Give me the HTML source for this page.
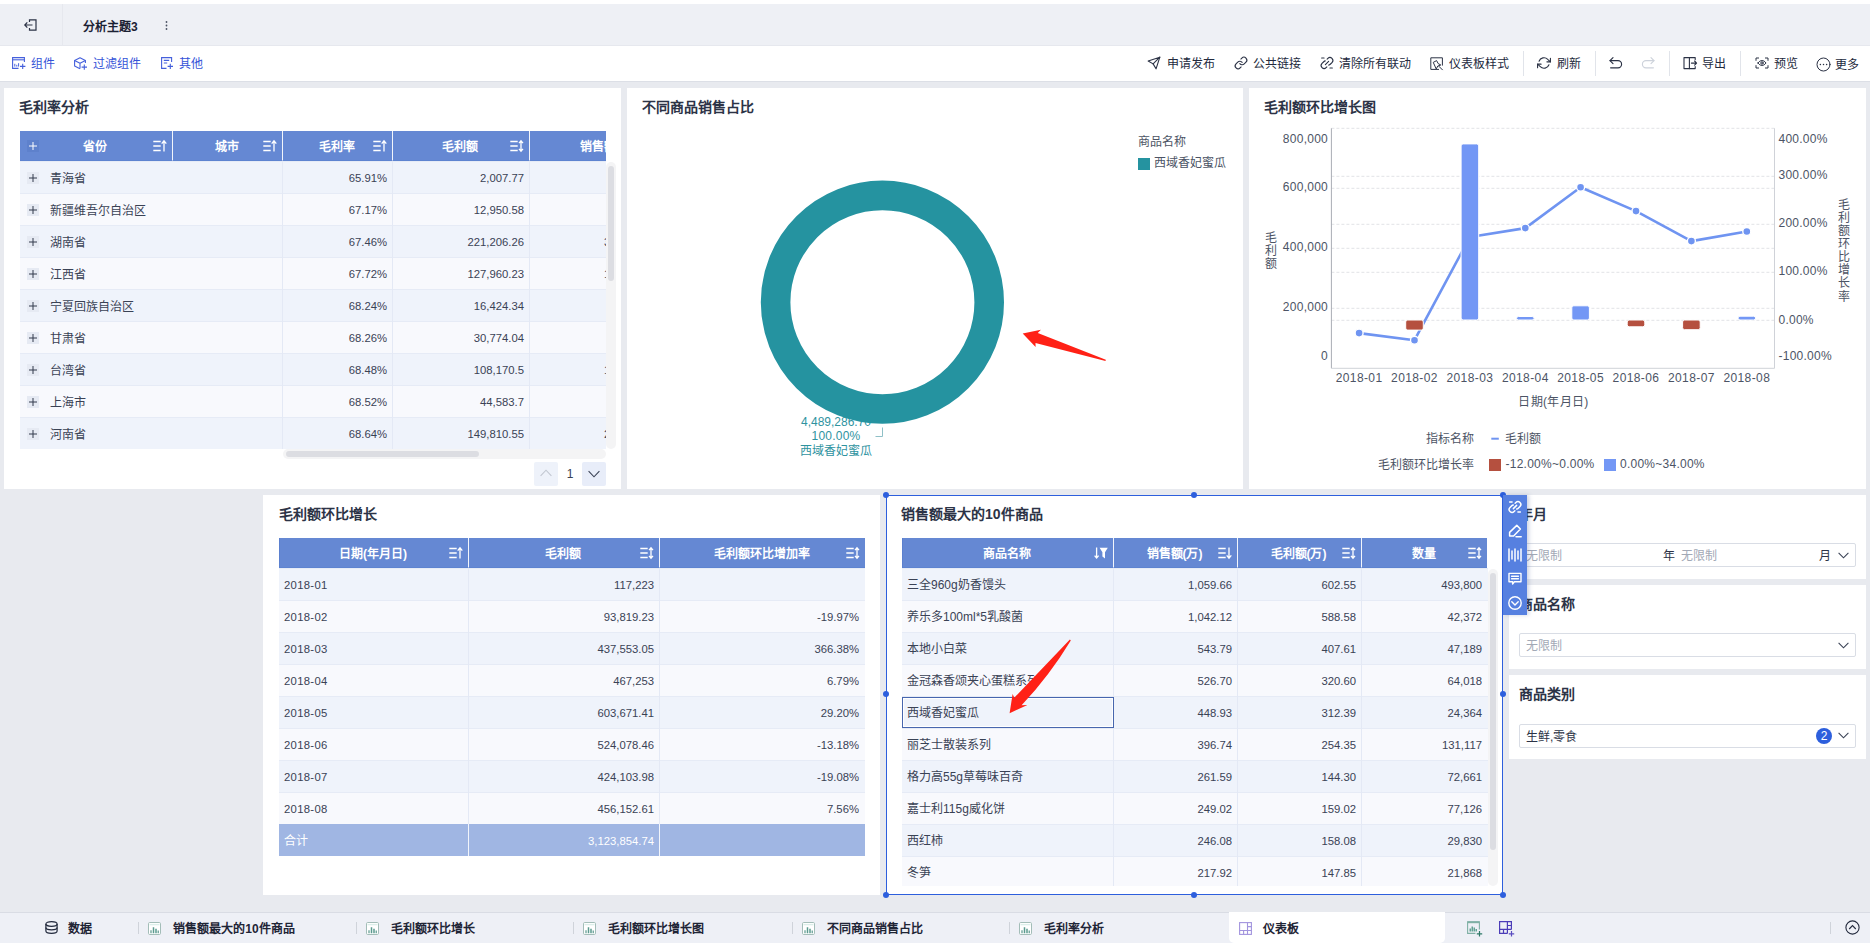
<!DOCTYPE html><html lang="zh-CN"><head><meta charset="utf-8"><title>dashboard</title><style>
*{box-sizing:border-box;margin:0;padding:0}
html,body{width:1870px;height:943px;overflow:hidden}
body{position:relative;background:#e8eaef;font-family:"Liberation Sans",sans-serif;font-size:12px;color:#3a4255;-webkit-font-smoothing:antialiased}
.abs{position:absolute}
.card{position:absolute;background:#fff}
.ttl{position:absolute;font-weight:bold;font-size:14px;color:#2c3346;white-space:nowrap;line-height:16px}
.th{position:absolute;background:#6588d3;color:#fff;font-weight:bold;font-size:12px;height:30px;line-height:33.5px;text-align:center;white-space:nowrap;border-left:1px solid #5b80cf;border-bottom:1px solid #5d83d0;padding-right:2px}
.td{position:absolute;height:32px;line-height:32px;white-space:nowrap;overflow:hidden;font-size:12px;color:#3a4255;border-top:1px solid #e6ebf6}
.num{text-align:right;padding-right:6px;font-size:11.3px;line-height:34px}
.txt{text-align:left;padding-left:5px;line-height:35px}
.ro{background:#eff3fb}
.re{background:#f8f9fd}
.vs{position:absolute;width:1px;background:#e4e9f5}
.tb{position:absolute;margin-top:1px;white-space:nowrap;font-size:12px;line-height:14px;color:#232a3d}
.tbl{color:#3553d8}
.sep{position:absolute;width:1px;background:#e1e4ea}
.tab{position:absolute;margin-top:1px;font-weight:bold;font-size:12px;color:#1f2536;white-space:nowrap;line-height:14px}
.ax{position:absolute;font-size:12px;line-height:14px;color:#4c5465;white-space:nowrap;letter-spacing:.25px}
.lg{position:absolute;margin-top:1px;font-size:12px;line-height:14px;color:#4c5465;white-space:nowrap}
svg{position:absolute;overflow:visible}
</style></head><body>
<div class="abs" style="left:0;top:0;width:1870px;height:4px;background:#fff"></div>
<div class="abs" style="left:0;top:4px;width:1870px;height:42px;background:#eef0f5;border-bottom:1px solid #e6e8ee"></div>
<div class="abs" style="left:62px;top:4px;width:1px;height:41px;background:#e6e8ee"></div>
<div class="abs" style="left:0;top:46px;width:1870px;height:35px;background:#fff"></div>
<div class="abs" style="left:0;top:81px;width:1870px;height:1px;background:#dcdfe6"></div>
<svg style="left:24px;top:19px" width="13" height="12" viewBox="0 0 13 12" fill="none" stroke="#2b3245" stroke-width="1.2"><path d="M5.5 3V.8H12V11.2H5.5V9"/><path d="M8.5 6H.8M3.3 3.4L.8 6l2.5 2.6"/></svg>
<div class="abs" style="left:83px;top:19px;font-weight:bold;font-size:12px;line-height:16px;color:#1b2133;white-space:nowrap">分析主题3</div>
<svg style="left:165px;top:21px" width="3" height="9" viewBox="0 0 3 9" fill="#4a5162"><circle cx="1.5" cy="1" r=".9"/><circle cx="1.5" cy="4.5" r=".9"/><circle cx="1.5" cy="8" r=".9"/></svg>
<svg style="left:12px;top:57px" width="14" height="12" viewBox="0 0 14 12" fill="none" stroke="#4560dc" stroke-width="1.1"><path d="M12.4 5V.6H.6V11.4H6.5"/><path d="M.6 2.8H12.4"/><path d="M2.8 9.6V6.8M4.8 9.6V7.8M6.6 9.6V6.2" stroke-width="1"/><path d="M8 9.4h5.4M10.7 6.7v5.3"/></svg>
<div class="tb tbl" style="left:31px;top:56px">组件</div>
<svg style="left:74px;top:56.5px" width="14" height="13" viewBox="0 0 14 13" fill="none" stroke="#4560dc" stroke-width="1.1" stroke-linejoin="round"><path d="M11.4 6V3.5L6 .7.6 3.5V9L6 11.8"/><path d="M.6 3.5L6 6.3 11.4 3.5M6 6.3V11.6"/><path d="M7.6 10.1h5.4M10.3 7.4v5.3"/></svg>
<div class="tb tbl" style="left:93px;top:56px">过滤组件</div>
<svg style="left:161px;top:57px" width="13" height="12" viewBox="0 0 13 12" fill="none" stroke="#4560dc" stroke-width="1.1"><path d="M10.6 5V.6H.6V11.4H5.5"/><path d="M2.8 3.4H8.2M2.8 6H6.2"/><path d="M6.6 9.4H12M9.3 6.7v5.3"/></svg>
<div class="tb tbl" style="left:179px;top:56px">其他</div>
<svg style="left:1147px;top:56px" width="14" height="14" viewBox="0 0 24 24" fill="none" stroke="#2b3245" stroke-width="1.9" stroke-linecap="round" stroke-linejoin="round"><path d="M22 2L10.5 13.5"/><path d="M22 2l-6.5 20-5-8.5-8.5-5z"/></svg>
<div class="tb" style="left:1167px;top:56px">申请发布</div>
<svg style="left:1233.5px;top:56px" width="14" height="14" viewBox="0 0 24 24" fill="none" stroke="#2b3245" stroke-width="1.9" stroke-linecap="round" stroke-linejoin="round"><path d="M10 13a5 5 0 0 0 7.54.54l3-3a5 5 0 0 0-7.07-7.07l-1.72 1.71"/><path d="M14 11a5 5 0 0 0-7.54-.54l-3 3a5 5 0 0 0 7.07 7.07l1.71-1.71"/></svg>
<div class="tb" style="left:1253px;top:56px">公共链接</div>
<svg style="left:1319.5px;top:56px" width="14" height="14" viewBox="0 0 24 24" fill="none" stroke="#2b3245" stroke-width="1.9" stroke-linecap="round" stroke-linejoin="round"><path d="M12.2 5.4l1.3-1.3a5 5 0 0 1 7.07 7.07l-3 3a5 5 0 0 1-2.6 1.4"/><path d="M11.8 18.6l-1.3 1.3a5 5 0 0 1-7.07-7.07l3-3a5 5 0 0 1 2.6-1.4"/><path d="M9.2 14.8l5.6-5.6"/><path d="M17 20.5h4.2M2.8 3.5H7"/></svg>
<div class="tb" style="left:1339px;top:56px">清除所有联动</div>
<svg style="left:1429.5px;top:56.5px" width="13" height="13" viewBox="0 0 13 13" fill="none" stroke="#2b3245" stroke-width="1" stroke-linecap="round" stroke-linejoin="round"><path d="M12.4 8.2V.8H.8V12.4H8.6"/><path d="M3.6 5.2l3-1.6 1.6 3 2.6 1.4-3 1-1.4 2.6z"/><path d="M9 9.4l3.4 3.4"/></svg>
<div class="tb" style="left:1449px;top:56px">仪表板样式</div>
<div class="sep" style="left:1523px;top:51px;height:25px"></div>
<svg style="left:1537px;top:56px" width="14" height="14" viewBox="0 0 24 24" fill="none" stroke="#2b3245" stroke-width="1.9" stroke-linecap="round" stroke-linejoin="round"><path d="M23 4v6h-6"/><path d="M1 20v-6h6"/><path d="M3.51 9a9 9 0 0 1 14.85-3.36L23 10M1 14l4.64 4.36A9 9 0 0 0 20.49 15"/></svg>
<div class="tb" style="left:1557px;top:56px">刷新</div>
<div class="sep" style="left:1595px;top:51px;height:25px"></div>
<svg style="left:1609px;top:56px" width="14" height="14" viewBox="0 0 14 14" fill="none" stroke="#2b3245" stroke-width="1.15" stroke-linecap="round" stroke-linejoin="round"><path d="M1 4.6h8a3.6 3.6 0 010 7.2H1.6"/><path d="M4 1.6L1 4.6l3 3"/></svg>
<svg style="left:1641px;top:56px" width="14" height="14" viewBox="0 0 14 14" fill="none" stroke="#cdd2db" stroke-width="1.15" stroke-linecap="round" stroke-linejoin="round"><path d="M13 4.6H5a3.6 3.6 0 000 7.2h7.4"/><path d="M10 1.6l3 3-3 3"/></svg>
<div class="sep" style="left:1669px;top:51px;height:25px"></div>
<svg style="left:1683px;top:56px" width="15" height="14" viewBox="0 0 15 14" fill="none" stroke="#2b3245" stroke-width="1.1" stroke-linecap="round" stroke-linejoin="round"><path d="M1 1.6h5.4v11H1z"/><path d="M6.4 1.6h5.8v2M6.4 12.6h5.8v-2"/><path d="M8.4 7.1h5M11.6 5l2 2.1-2 2.1"/></svg>
<div class="tb" style="left:1702px;top:56px">导出</div>
<div class="sep" style="left:1740px;top:51px;height:25px"></div>
<svg style="left:1754.5px;top:56px" width="14" height="14" viewBox="0 0 14 14" fill="none" stroke="#2b3245" stroke-width="1" stroke-linecap="round" stroke-linejoin="round"><path d="M1 4.400V2h2.600M10.400 2H13v2.400M13 9.600V12h-2.600M3.600 12H1V9.600"/><path d="M3 7C4.200 5.300 5.500 4.600 7 4.600s2.800.7 4 2.400C9.800 8.700 8.500 9.400 7 9.400S4.200 8.700 3 7z"/><circle cx="7" cy="7" r="1.200"/></svg>
<div class="tb" style="left:1774px;top:56px">预览</div>
<svg style="left:1815.5px;top:56.5px" width="15" height="15" viewBox="0 0 15 15" fill="none" stroke="#2b3245" stroke-width="1" stroke-linecap="round" stroke-linejoin="round"><circle cx="7.5" cy="7.5" r="6.500"/><circle cx="4.4" cy="7.5" r=".75" fill="#2b3245" stroke="none"/><circle cx="7.5" cy="7.5" r=".75" fill="#2b3245" stroke="none"/><circle cx="10.6" cy="7.5" r=".75" fill="#2b3245" stroke="none"/></svg>
<div class="tb" style="left:1835px;top:57px">更多</div>
<div class="card" style="left:4px;top:88px;width:617px;height:401px"></div>
<div class="ttl" style="left:19px;top:99px">毛利率分析</div>
<div class="abs" style="left:20px;top:131px;width:586px;height:30px;overflow:hidden">
<div class="th" style="left:0px;top:0;width:152px;border-left:0;padding-left:0px">省份</div>
<svg style="left:133px;top:9px" width="14" height="12" viewBox="0 0 14 12" fill="none" stroke="#fff" stroke-width="1.4"><path d="M.3 1.5h7.4M.3 6h7.4M.3 10.5h7.4"/><path d="M11 11.5V.8M8.7 3.6L11 .8l2.3 2.8" stroke-width="1.3"/></svg>
<div class="th" style="left:152px;top:0;width:110px;border-left:1px solid #f2f5fb;padding-left:0px">城市</div>
<svg style="left:243px;top:9px" width="14" height="12" viewBox="0 0 14 12" fill="none" stroke="#fff" stroke-width="1.4"><path d="M.3 1.5h7.4M.3 6h7.4M.3 10.5h7.4"/><path d="M11 11.5V.8M8.7 3.6L11 .8l2.3 2.8" stroke-width="1.3"/></svg>
<div class="th" style="left:262px;top:0;width:110px;border-left:1px solid #f2f5fb;padding-left:0px">毛利率</div>
<svg style="left:353px;top:9px" width="14" height="12" viewBox="0 0 14 12" fill="none" stroke="#fff" stroke-width="1.4"><path d="M.3 1.5h7.4M.3 6h7.4M.3 10.5h7.4"/><path d="M11 11.5V.8M8.7 3.6L11 .8l2.3 2.8" stroke-width="1.3"/></svg>
<div class="th" style="left:372px;top:0;width:137px;border-left:1px solid #f2f5fb;padding-left:0px">毛利额</div>
<svg style="left:490px;top:9px" width="14" height="12" viewBox="0 0 14 12" fill="none" stroke="#fff" stroke-width="1.4"><path d="M.3 1.5h7.4M.3 6h7.4M.3 10.5h7.4"/><path d="M11 1v10M9 3.2L11 .8l2 2.4M9 8.8l2 2.4 2-2.4" stroke-width="1.3"/></svg>
<div class="th" style="left:509px;top:0;width:138px;border-left:1px solid #f2f5fb">销售额</div>
<div class="abs" style="left:7px;top:9px;width:12px;height:12px;background:rgba(40,70,150,.10)"></div><svg style="left:8.500px;top:10.500px" width="8" height="8" viewBox="0 0 8 8" stroke="#fff" stroke-width="1"><path d="M4 0v8M0 4h8"/></svg>
</div>
<div class="abs" style="left:20px;top:161px;width:586px;height:288px;overflow:hidden">
<div class="td ro" style="left:0;top:0px;width:586px"></div>
<div class="abs" style="left:7px;top:11px;width:12px;height:12px;background:#e6eaf3"></div><svg style="left:8.500px;top:12.5px" width="8" height="8" viewBox="0 0 8 8" stroke="#333a4c" stroke-width="1"><path d="M4 0v8M0 4h8"/></svg>
<div class="td txt" style="left:24px;top:0px;width:238px;border:0;padding-left:6px;line-height:36.500px">青海省</div>
<div class="td num" style="left:263px;top:0px;width:110px;border:0">65.91%</div>
<div class="td num" style="left:373px;top:0px;width:137px;border:0">2,007.77</div>
<div class="td re" style="left:0;top:32px;width:586px"></div>
<div class="abs" style="left:7px;top:43px;width:12px;height:12px;background:#e6eaf3"></div><svg style="left:8.500px;top:44.5px" width="8" height="8" viewBox="0 0 8 8" stroke="#333a4c" stroke-width="1"><path d="M4 0v8M0 4h8"/></svg>
<div class="td txt" style="left:24px;top:32px;width:238px;border:0;padding-left:6px;line-height:36.500px">新疆维吾尔自治区</div>
<div class="td num" style="left:263px;top:32px;width:110px;border:0">67.17%</div>
<div class="td num" style="left:373px;top:32px;width:137px;border:0">12,950.58</div>
<div class="td ro" style="left:0;top:64px;width:586px"></div>
<div class="abs" style="left:7px;top:75px;width:12px;height:12px;background:#e6eaf3"></div><svg style="left:8.500px;top:76.5px" width="8" height="8" viewBox="0 0 8 8" stroke="#333a4c" stroke-width="1"><path d="M4 0v8M0 4h8"/></svg>
<div class="td txt" style="left:24px;top:64px;width:238px;border:0;padding-left:6px;line-height:36.500px">湖南省</div>
<div class="td num" style="left:263px;top:64px;width:110px;border:0">67.46%</div>
<div class="td num" style="left:373px;top:64px;width:137px;border:0">221,206.26</div>
<div class="td num" style="left:510px;top:64px;width:137px;border:0;text-align:left;padding-left:74px">3</div>
<div class="td re" style="left:0;top:96px;width:586px"></div>
<div class="abs" style="left:7px;top:107px;width:12px;height:12px;background:#e6eaf3"></div><svg style="left:8.500px;top:108.5px" width="8" height="8" viewBox="0 0 8 8" stroke="#333a4c" stroke-width="1"><path d="M4 0v8M0 4h8"/></svg>
<div class="td txt" style="left:24px;top:96px;width:238px;border:0;padding-left:6px;line-height:36.500px">江西省</div>
<div class="td num" style="left:263px;top:96px;width:110px;border:0">67.72%</div>
<div class="td num" style="left:373px;top:96px;width:137px;border:0">127,960.23</div>
<div class="td num" style="left:510px;top:96px;width:137px;border:0;text-align:left;padding-left:74px">1</div>
<div class="td ro" style="left:0;top:128px;width:586px"></div>
<div class="abs" style="left:7px;top:139px;width:12px;height:12px;background:#e6eaf3"></div><svg style="left:8.500px;top:140.5px" width="8" height="8" viewBox="0 0 8 8" stroke="#333a4c" stroke-width="1"><path d="M4 0v8M0 4h8"/></svg>
<div class="td txt" style="left:24px;top:128px;width:238px;border:0;padding-left:6px;line-height:36.500px">宁夏回族自治区</div>
<div class="td num" style="left:263px;top:128px;width:110px;border:0">68.24%</div>
<div class="td num" style="left:373px;top:128px;width:137px;border:0">16,424.34</div>
<div class="td re" style="left:0;top:160px;width:586px"></div>
<div class="abs" style="left:7px;top:171px;width:12px;height:12px;background:#e6eaf3"></div><svg style="left:8.500px;top:172.5px" width="8" height="8" viewBox="0 0 8 8" stroke="#333a4c" stroke-width="1"><path d="M4 0v8M0 4h8"/></svg>
<div class="td txt" style="left:24px;top:160px;width:238px;border:0;padding-left:6px;line-height:36.500px">甘肃省</div>
<div class="td num" style="left:263px;top:160px;width:110px;border:0">68.26%</div>
<div class="td num" style="left:373px;top:160px;width:137px;border:0">30,774.04</div>
<div class="td ro" style="left:0;top:192px;width:586px"></div>
<div class="abs" style="left:7px;top:203px;width:12px;height:12px;background:#e6eaf3"></div><svg style="left:8.500px;top:204.5px" width="8" height="8" viewBox="0 0 8 8" stroke="#333a4c" stroke-width="1"><path d="M4 0v8M0 4h8"/></svg>
<div class="td txt" style="left:24px;top:192px;width:238px;border:0;padding-left:6px;line-height:36.500px">台湾省</div>
<div class="td num" style="left:263px;top:192px;width:110px;border:0">68.48%</div>
<div class="td num" style="left:373px;top:192px;width:137px;border:0">108,170.5</div>
<div class="td num" style="left:510px;top:192px;width:137px;border:0;text-align:left;padding-left:74px">1</div>
<div class="td re" style="left:0;top:224px;width:586px"></div>
<div class="abs" style="left:7px;top:235px;width:12px;height:12px;background:#e6eaf3"></div><svg style="left:8.500px;top:236.5px" width="8" height="8" viewBox="0 0 8 8" stroke="#333a4c" stroke-width="1"><path d="M4 0v8M0 4h8"/></svg>
<div class="td txt" style="left:24px;top:224px;width:238px;border:0;padding-left:6px;line-height:36.500px">上海市</div>
<div class="td num" style="left:263px;top:224px;width:110px;border:0">68.52%</div>
<div class="td num" style="left:373px;top:224px;width:137px;border:0">44,583.7</div>
<div class="td ro" style="left:0;top:256px;width:586px"></div>
<div class="abs" style="left:7px;top:267px;width:12px;height:12px;background:#e6eaf3"></div><svg style="left:8.500px;top:268.5px" width="8" height="8" viewBox="0 0 8 8" stroke="#333a4c" stroke-width="1"><path d="M4 0v8M0 4h8"/></svg>
<div class="td txt" style="left:24px;top:256px;width:238px;border:0;padding-left:6px;line-height:36.500px">河南省</div>
<div class="td num" style="left:263px;top:256px;width:110px;border:0">68.64%</div>
<div class="td num" style="left:373px;top:256px;width:137px;border:0">149,810.55</div>
<div class="td num" style="left:510px;top:256px;width:137px;border:0;text-align:left;padding-left:74px">2</div>
<div class="vs" style="left:262px;top:0;height:288px"></div>
<div class="vs" style="left:372px;top:0;height:288px"></div>
<div class="vs" style="left:509px;top:0;height:288px"></div>
</div>
<div class="abs" style="left:606px;top:162px;width:10px;height:287px;background:#f4f4f5;border-radius:5px"></div>
<div class="abs" style="left:608px;top:166px;width:6px;height:115px;background:#dcdde2;border-radius:3px"></div>
<div class="abs" style="left:283px;top:449px;width:323px;height:10px;background:#f4f4f5;border-radius:5px"></div>
<div class="abs" style="left:286px;top:451px;width:193px;height:6px;background:#dcdde2;border-radius:3px"></div>
<div class="abs" style="left:534px;top:462px;width:24px;height:24px;background:#eef2fa;border-radius:2px"></div>
<svg style="left:540px;top:469px" width="12" height="8" viewBox="0 0 12 8" fill="none" stroke="#c2c7d1" stroke-width="1.1"><path d="M.6 6.8L6 1.2l5.4 5.6"/></svg>
<div class="abs" style="left:562px;top:466px;width:16px;text-align:center;line-height:16px;font-size:12px;color:#3a4255">1</div>
<div class="abs" style="left:582px;top:462px;width:24px;height:24px;background:#e8edf9;border-radius:2px"></div>
<svg style="left:588px;top:470px" width="12" height="8" viewBox="0 0 12 8" fill="none" stroke="#3a4255" stroke-width="1.1"><path d="M.6 1.2L6 6.8l5.4-5.6"/></svg>
<div class="card" style="left:627px;top:88px;width:616px;height:401px"></div>
<div class="ttl" style="left:642px;top:99px">不同商品销售占比</div>
<div class="lg" style="left:1138px;top:134px">商品名称</div>
<div class="abs" style="left:1138px;top:158px;width:12px;height:12px;background:#2593a0"></div>
<div class="lg" style="left:1154px;top:155px">西域香妃蜜瓜</div>
<div class="lg" style="left:796px;top:415px;width:80px;text-align:center;margin-top:0;color:#2f939f">4,489,286.70</div>
<div class="lg" style="left:796px;top:429px;width:80px;text-align:center;margin-top:0;color:#2f939f;letter-spacing:.2px">100.00%</div>
<div class="lg" style="left:796px;top:443px;width:80px;text-align:center;color:#2f939f">西域香妃蜜瓜</div>
<svg style="left:0;top:0" width="1870" height="943" viewBox="0 0 1870 943"><path d="M875.5 436.5H882.5V427.5" fill="none" stroke="#8fc0c7" stroke-width="1"/><circle cx="882.4" cy="302.2" r="106.8" fill="none" stroke="#2593a0" stroke-width="29.6"/>
<path d="M1022.7 333.4L1040.9 329.7L1037.8 332.9L1105.8 359.700L1105.500 361L1035.500 343.100L1035.600 346.900Z" fill="#ff2116"/>
</svg>
<div class="card" style="left:1249px;top:88px;width:617px;height:401px"></div>
<div class="ttl" style="left:1264px;top:99px">毛利额环比增长图</div>
<svg style="left:0;top:0" width="1870" height="943" viewBox="0 0 1870 943"><path d="M1331.4 128.3H1774.5" stroke="#e2e3e6" stroke-width="1" stroke-dasharray="3 2" fill="none"/><path d="M1331.4 176.3H1774.5" stroke="#e2e3e6" stroke-width="1" stroke-dasharray="3 2" fill="none"/><path d="M1331.4 188.3H1774.5" stroke="#e2e3e6" stroke-width="1" stroke-dasharray="3 2" fill="none"/><path d="M1331.4 224.3H1774.5" stroke="#e2e3e6" stroke-width="1" stroke-dasharray="3 2" fill="none"/><path d="M1331.4 248.3H1774.5" stroke="#e2e3e6" stroke-width="1" stroke-dasharray="3 2" fill="none"/><path d="M1331.4 272.3H1774.5" stroke="#e2e3e6" stroke-width="1" stroke-dasharray="3 2" fill="none"/><path d="M1331.4 308.3H1774.5" stroke="#e2e3e6" stroke-width="1" stroke-dasharray="3 2" fill="none"/><path d="M1331.4 320.3H1774.5" stroke="#e2e3e6" stroke-width="1" stroke-dasharray="3 2" fill="none"/><path d="M1331.4 128.3V368.3" stroke="#a9adb5" stroke-width="1"/><path d="M1774.5 128.3V368.3" stroke="#cfd2d8" stroke-width="1"/><path d="M1331.4 368.3H1774.5" stroke="#cfd2d8" stroke-width="1"/><path d="M1359.1 333.1 L1414.5 340.2 L1469.9 237.0 L1525.3 228.1 L1580.6 187.2 L1636.0 211.1 L1691.4 241.1 L1746.8 231.5" fill="none" stroke="#6f94f1" stroke-width="2.6" stroke-linejoin="round"/><circle cx="1359.1" cy="333.1" r="4" fill="#6f94f1" stroke="#fff" stroke-width="1.4"/><circle cx="1414.5" cy="340.2" r="4" fill="#6f94f1" stroke="#fff" stroke-width="1.4"/><circle cx="1469.9" cy="237.0" r="4" fill="#6f94f1" stroke="#fff" stroke-width="1.4"/><circle cx="1525.3" cy="228.1" r="4" fill="#6f94f1" stroke="#fff" stroke-width="1.4"/><circle cx="1580.6" cy="187.2" r="4" fill="#6f94f1" stroke="#fff" stroke-width="1.4"/><circle cx="1636.0" cy="211.1" r="4" fill="#6f94f1" stroke="#fff" stroke-width="1.4"/><circle cx="1691.4" cy="241.1" r="4" fill="#6f94f1" stroke="#fff" stroke-width="1.4"/><circle cx="1746.8" cy="231.5" r="4" fill="#6f94f1" stroke="#fff" stroke-width="1.4"/><rect x="1405.7" y="320.0" width="17.6" height="10.1" rx="2" fill="#b5503f" stroke="#fff" stroke-width="1"/><rect x="1461.1" y="143.9" width="17.6" height="176.1" rx="2" fill="#7397f5" stroke="#fff" stroke-width="1"/><rect x="1516.5" y="316.5" width="17.6" height="3.5" rx="2" fill="#7397f5" stroke="#fff" stroke-width="1"/><rect x="1571.8" y="305.8" width="17.6" height="14.2" rx="2" fill="#7397f5" stroke="#fff" stroke-width="1"/><rect x="1627.2" y="320.0" width="17.6" height="6.8" rx="2" fill="#b5503f" stroke="#fff" stroke-width="1"/><rect x="1682.6" y="320.0" width="17.6" height="9.7" rx="2" fill="#b5503f" stroke="#fff" stroke-width="1"/><rect x="1738.0" y="316.2" width="17.6" height="3.8" rx="2" fill="#7397f5" stroke="#fff" stroke-width="1"/><path d="M1491.3 438.7H1498.8" stroke="#6f94f1" stroke-width="2"/><rect x="1489" y="459" width="12" height="12" fill="#b5503f"/><rect x="1604" y="459" width="12" height="12" fill="#7397f5"/></svg>
<div class="ax" style="left:1268px;top:349.0px;width:60px;text-align:right">0</div>
<div class="ax" style="left:1268px;top:300.0px;width:60px;text-align:right">200,000</div>
<div class="ax" style="left:1268px;top:240.0px;width:60px;text-align:right">400,000</div>
<div class="ax" style="left:1268px;top:180.0px;width:60px;text-align:right">600,000</div>
<div class="ax" style="left:1268px;top:131.5px;width:60px;text-align:right">800,000</div>
<div class="ax" style="left:1778.5px;top:349.0px">-100.00%</div>
<div class="ax" style="left:1778.5px;top:313.3px">0.00%</div>
<div class="ax" style="left:1778.5px;top:264.0px">100.00%</div>
<div class="ax" style="left:1778.5px;top:216.0px">200.00%</div>
<div class="ax" style="left:1778.5px;top:168.0px">300.00%</div>
<div class="ax" style="left:1778.5px;top:131.5px">400.00%</div>
<div class="ax" style="left:1329.1px;top:371px;width:60px;text-align:center;letter-spacing:.4px">2018-01</div>
<div class="ax" style="left:1384.5px;top:371px;width:60px;text-align:center;letter-spacing:.4px">2018-02</div>
<div class="ax" style="left:1439.9px;top:371px;width:60px;text-align:center;letter-spacing:.4px">2018-03</div>
<div class="ax" style="left:1495.3px;top:371px;width:60px;text-align:center;letter-spacing:.4px">2018-04</div>
<div class="ax" style="left:1550.6px;top:371px;width:60px;text-align:center;letter-spacing:.4px">2018-05</div>
<div class="ax" style="left:1606.0px;top:371px;width:60px;text-align:center;letter-spacing:.4px">2018-06</div>
<div class="ax" style="left:1661.4px;top:371px;width:60px;text-align:center;letter-spacing:.4px">2018-07</div>
<div class="ax" style="left:1716.8px;top:371px;width:60px;text-align:center;letter-spacing:.4px">2018-08</div>
<div class="lg" style="left:1503.500px;top:394px;width:100px;text-align:center;letter-spacing:.3px">日期(年月日)</div>
<div class="lg" style="left:1264.5px;top:230px;width:12px;text-align:center">毛</div>
<div class="lg" style="left:1264.5px;top:243px;width:12px;text-align:center">利</div>
<div class="lg" style="left:1264.5px;top:256px;width:12px;text-align:center">额</div>
<div class="lg" style="left:1838.3px;top:196.8px;width:12px;text-align:center">毛</div>
<div class="lg" style="left:1838.3px;top:209.9px;width:12px;text-align:center">利</div>
<div class="lg" style="left:1838.3px;top:223.0px;width:12px;text-align:center">额</div>
<div class="lg" style="left:1838.3px;top:236.1px;width:12px;text-align:center">环</div>
<div class="lg" style="left:1838.3px;top:249.2px;width:12px;text-align:center">比</div>
<div class="lg" style="left:1838.3px;top:262.3px;width:12px;text-align:center">增</div>
<div class="lg" style="left:1838.3px;top:275.4px;width:12px;text-align:center">长</div>
<div class="lg" style="left:1838.3px;top:288.5px;width:12px;text-align:center">率</div>
<div class="lg" style="left:1374px;top:431px;width:100px;text-align:right">指标名称</div>
<div class="lg" style="left:1505px;top:431px">毛利额</div>
<div class="lg" style="left:1374px;top:457px;width:100px;text-align:right">毛利额环比增长率</div>
<div class="ax" style="left:1505.5px;top:457px">-12.00%~0.00%</div>
<div class="ax" style="left:1620px;top:457px">0.00%~34.00%</div>
<div class="card" style="left:263px;top:495px;width:617px;height:400px"></div>
<div class="ttl" style="left:279px;top:506px">毛利额环比增长</div>
<div class="th" style="left:279px;top:538px;width:189px;border-left:1px solid #5b80cf">日期(年月日)</div>
<svg style="left:449px;top:547px" width="14" height="12" viewBox="0 0 14 12" fill="none" stroke="#fff" stroke-width="1.4"><path d="M.3 1.5h7.4M.3 6h7.4M.3 10.5h7.4"/><path d="M11 11.5V.8M8.7 3.6L11 .8l2.3 2.8" stroke-width="1.3"/></svg>
<div class="th" style="left:468px;top:538px;width:191px;border-left:1px solid #f2f5fb">毛利额</div>
<svg style="left:640px;top:547px" width="14" height="12" viewBox="0 0 14 12" fill="none" stroke="#fff" stroke-width="1.4"><path d="M.3 1.5h7.4M.3 6h7.4M.3 10.5h7.4"/><path d="M11 1v10M9 3.2L11 .8l2 2.4M9 8.8l2 2.4 2-2.4" stroke-width="1.3"/></svg>
<div class="th" style="left:659px;top:538px;width:206px;border-left:1px solid #f2f5fb">毛利额环比增加率</div>
<svg style="left:846px;top:547px" width="14" height="12" viewBox="0 0 14 12" fill="none" stroke="#fff" stroke-width="1.4"><path d="M.3 1.5h7.4M.3 6h7.4M.3 10.5h7.4"/><path d="M11 1v10M9 3.2L11 .8l2 2.4M9 8.8l2 2.4 2-2.4" stroke-width="1.3"/></svg>
<div class="td ro" style="left:279px;top:568px;width:586px"></div>
<div class="td txt num" style="left:279px;top:568px;width:190px;border:0;text-align:left;letter-spacing:.3px;line-height:34px">2018-01</div>
<div class="td num" style="left:469px;top:568px;width:191px;border:0">117,223</div>
<div class="td num" style="left:660px;top:568px;width:205px;border:0"></div>
<div class="td re" style="left:279px;top:600px;width:586px"></div>
<div class="td txt num" style="left:279px;top:600px;width:190px;border:0;text-align:left;letter-spacing:.3px;line-height:34px">2018-02</div>
<div class="td num" style="left:469px;top:600px;width:191px;border:0">93,819.23</div>
<div class="td num" style="left:660px;top:600px;width:205px;border:0">-19.97%</div>
<div class="td ro" style="left:279px;top:632px;width:586px"></div>
<div class="td txt num" style="left:279px;top:632px;width:190px;border:0;text-align:left;letter-spacing:.3px;line-height:34px">2018-03</div>
<div class="td num" style="left:469px;top:632px;width:191px;border:0">437,553.05</div>
<div class="td num" style="left:660px;top:632px;width:205px;border:0">366.38%</div>
<div class="td re" style="left:279px;top:664px;width:586px"></div>
<div class="td txt num" style="left:279px;top:664px;width:190px;border:0;text-align:left;letter-spacing:.3px;line-height:34px">2018-04</div>
<div class="td num" style="left:469px;top:664px;width:191px;border:0">467,253</div>
<div class="td num" style="left:660px;top:664px;width:205px;border:0">6.79%</div>
<div class="td ro" style="left:279px;top:696px;width:586px"></div>
<div class="td txt num" style="left:279px;top:696px;width:190px;border:0;text-align:left;letter-spacing:.3px;line-height:34px">2018-05</div>
<div class="td num" style="left:469px;top:696px;width:191px;border:0">603,671.41</div>
<div class="td num" style="left:660px;top:696px;width:205px;border:0">29.20%</div>
<div class="td re" style="left:279px;top:728px;width:586px"></div>
<div class="td txt num" style="left:279px;top:728px;width:190px;border:0;text-align:left;letter-spacing:.3px;line-height:34px">2018-06</div>
<div class="td num" style="left:469px;top:728px;width:191px;border:0">524,078.46</div>
<div class="td num" style="left:660px;top:728px;width:205px;border:0">-13.18%</div>
<div class="td ro" style="left:279px;top:760px;width:586px"></div>
<div class="td txt num" style="left:279px;top:760px;width:190px;border:0;text-align:left;letter-spacing:.3px;line-height:34px">2018-07</div>
<div class="td num" style="left:469px;top:760px;width:191px;border:0">424,103.98</div>
<div class="td num" style="left:660px;top:760px;width:205px;border:0">-19.08%</div>
<div class="td re" style="left:279px;top:792px;width:586px"></div>
<div class="td txt num" style="left:279px;top:792px;width:190px;border:0;text-align:left;letter-spacing:.3px;line-height:34px">2018-08</div>
<div class="td num" style="left:469px;top:792px;width:191px;border:0">456,152.61</div>
<div class="td num" style="left:660px;top:792px;width:205px;border:0">7.56%</div>
<div class="vs" style="left:468px;top:568px;height:256px"></div>
<div class="vs" style="left:659px;top:568px;height:256px"></div>
<div class="abs" style="left:279px;top:824px;width:586px;height:32px;background:#a0b6e3"></div>
<div class="td txt" style="left:279px;top:824px;width:190px;border:0;color:#fff">合计</div>
<div class="td num" style="left:469px;top:824px;width:191px;border:0;color:#fff">3,123,854.74</div>
<div class="vs" style="left:468px;top:824px;height:32px;background:#f2f5fb"></div>
<div class="vs" style="left:659px;top:824px;height:32px;background:#f2f5fb"></div>
<div class="card" style="left:886px;top:495px;width:617px;height:400px"></div>
<div class="ttl" style="left:901px;top:506px">销售额最大的10件商品</div>
<div class="th" style="left:902px;top:538px;width:211px;border-left:1px solid #5b80cf">商品名称</div>
<svg style="left:1094px;top:547px" width="14" height="12" viewBox="0 0 14 12" fill="none" stroke="#fff" stroke-width="1.4"><path d="M2.6 .6v10.2M.6 8.6l2 2.300 2-2.300" stroke-width="1.3"/><path d="M5.600 .8h8.200L11 5.200v6.200L8.400 9.600V5.200z" fill="#fff" stroke="none"/></svg>
<div class="th" style="left:1113px;top:538px;width:124px;border-left:1px solid #f2f5fb">销售额(万)</div>
<svg style="left:1218px;top:547px" width="14" height="12" viewBox="0 0 14 12" fill="none" stroke="#fff" stroke-width="1.4"><path d="M.3 1.5h7.4M.3 6h7.4M.3 10.5h7.4"/><path d="M11 .5v10.7M8.7 8.4L11 11.2l2.3-2.8" stroke-width="1.3"/></svg>
<div class="th" style="left:1237px;top:538px;width:124px;border-left:1px solid #f2f5fb">毛利额(万)</div>
<svg style="left:1342px;top:547px" width="14" height="12" viewBox="0 0 14 12" fill="none" stroke="#fff" stroke-width="1.4"><path d="M.3 1.5h7.4M.3 6h7.4M.3 10.5h7.4"/><path d="M11 1v10M9 3.2L11 .8l2 2.4M9 8.8l2 2.4 2-2.4" stroke-width="1.3"/></svg>
<div class="th" style="left:1361px;top:538px;width:126px;border-left:1px solid #f2f5fb">数量</div>
<svg style="left:1468px;top:547px" width="14" height="12" viewBox="0 0 14 12" fill="none" stroke="#fff" stroke-width="1.4"><path d="M.3 1.5h7.4M.3 6h7.4M.3 10.5h7.4"/><path d="M11 1v10M9 3.2L11 .8l2 2.4M9 8.8l2 2.4 2-2.4" stroke-width="1.3"/></svg>
<div class="abs" style="left:902px;top:568px;width:586px;height:318px;overflow:hidden">
<div class="td ro" style="left:0;top:0px;width:586px"></div>
<div class="td txt" style="left:0;top:0px;width:212px;border:0">三全960g奶香馒头</div>
<div class="td num" style="left:212px;top:0px;width:124px;border:0">1,059.66</div>
<div class="td num" style="left:336px;top:0px;width:124px;border:0">602.55</div>
<div class="td num" style="left:460px;top:0px;width:126px;border:0">493,800</div>
<div class="td re" style="left:0;top:32px;width:586px"></div>
<div class="td txt" style="left:0;top:32px;width:212px;border:0">养乐多100ml*5乳酸菌</div>
<div class="td num" style="left:212px;top:32px;width:124px;border:0">1,042.12</div>
<div class="td num" style="left:336px;top:32px;width:124px;border:0">588.58</div>
<div class="td num" style="left:460px;top:32px;width:126px;border:0">42,372</div>
<div class="td ro" style="left:0;top:64px;width:586px"></div>
<div class="td txt" style="left:0;top:64px;width:212px;border:0">本地小白菜</div>
<div class="td num" style="left:212px;top:64px;width:124px;border:0">543.79</div>
<div class="td num" style="left:336px;top:64px;width:124px;border:0">407.61</div>
<div class="td num" style="left:460px;top:64px;width:126px;border:0">47,189</div>
<div class="td re" style="left:0;top:96px;width:586px"></div>
<div class="td txt" style="left:0;top:96px;width:212px;border:0">金冠森香颂夹心蛋糕系列</div>
<div class="td num" style="left:212px;top:96px;width:124px;border:0">526.70</div>
<div class="td num" style="left:336px;top:96px;width:124px;border:0">320.60</div>
<div class="td num" style="left:460px;top:96px;width:126px;border:0">64,018</div>
<div class="td ro" style="left:0;top:128px;width:586px"></div>
<div class="td txt" style="left:0;top:128px;width:212px;border:0">西域香妃蜜瓜</div>
<div class="td num" style="left:212px;top:128px;width:124px;border:0">448.93</div>
<div class="td num" style="left:336px;top:128px;width:124px;border:0">312.39</div>
<div class="td num" style="left:460px;top:128px;width:126px;border:0">24,364</div>
<div class="td re" style="left:0;top:160px;width:586px"></div>
<div class="td txt" style="left:0;top:160px;width:212px;border:0">丽芝士散装系列</div>
<div class="td num" style="left:212px;top:160px;width:124px;border:0">396.74</div>
<div class="td num" style="left:336px;top:160px;width:124px;border:0">254.35</div>
<div class="td num" style="left:460px;top:160px;width:126px;border:0">131,117</div>
<div class="td ro" style="left:0;top:192px;width:586px"></div>
<div class="td txt" style="left:0;top:192px;width:212px;border:0">格力高55g草莓味百奇</div>
<div class="td num" style="left:212px;top:192px;width:124px;border:0">261.59</div>
<div class="td num" style="left:336px;top:192px;width:124px;border:0">144.30</div>
<div class="td num" style="left:460px;top:192px;width:126px;border:0">72,661</div>
<div class="td re" style="left:0;top:224px;width:586px"></div>
<div class="td txt" style="left:0;top:224px;width:212px;border:0">嘉士利115g威化饼</div>
<div class="td num" style="left:212px;top:224px;width:124px;border:0">249.02</div>
<div class="td num" style="left:336px;top:224px;width:124px;border:0">159.02</div>
<div class="td num" style="left:460px;top:224px;width:126px;border:0">77,126</div>
<div class="td ro" style="left:0;top:256px;width:586px"></div>
<div class="td txt" style="left:0;top:256px;width:212px;border:0">西红柿</div>
<div class="td num" style="left:212px;top:256px;width:124px;border:0">246.08</div>
<div class="td num" style="left:336px;top:256px;width:124px;border:0">158.08</div>
<div class="td num" style="left:460px;top:256px;width:126px;border:0">29,830</div>
<div class="td re" style="left:0;top:288px;width:586px"></div>
<div class="td txt" style="left:0;top:288px;width:212px;border:0">冬笋</div>
<div class="td num" style="left:212px;top:288px;width:124px;border:0">217.92</div>
<div class="td num" style="left:336px;top:288px;width:124px;border:0">147.85</div>
<div class="td num" style="left:460px;top:288px;width:126px;border:0">21,868</div>
<div class="vs" style="left:211px;top:0;height:326px"></div>
<div class="vs" style="left:335px;top:0;height:326px"></div>
<div class="vs" style="left:459px;top:0;height:326px"></div>
<div class="abs" style="left:0;top:129px;width:212px;height:31px;border:1px solid #4766ae;box-shadow:inset 0 0 0 1px #fff"></div>
</div>
<div class="abs" style="left:1488px;top:569px;width:10px;height:317px;background:#f4f4f5;border-radius:5px"></div>
<div class="abs" style="left:1490px;top:573px;width:6px;height:277px;background:#dcdde2;border-radius:3px"></div>
<div class="abs" style="left:886px;top:495px;width:617px;height:400px;border:1px solid #2d5fdd"></div>
<div class="abs" style="left:883px;top:491.8px;width:6px;height:6px;border-radius:3px;background:#2d5fdd"></div>
<div class="abs" style="left:1190.5px;top:491.8px;width:6px;height:6px;border-radius:3px;background:#2d5fdd"></div>
<div class="abs" style="left:1500px;top:491.8px;width:6px;height:6px;border-radius:3px;background:#2d5fdd"></div>
<div class="abs" style="left:883px;top:691px;width:6px;height:6px;border-radius:3px;background:#2d5fdd"></div>
<div class="abs" style="left:1500px;top:691px;width:6px;height:6px;border-radius:3px;background:#2d5fdd"></div>
<div class="abs" style="left:883px;top:892px;width:6px;height:6px;border-radius:3px;background:#2d5fdd"></div>
<div class="abs" style="left:1190.5px;top:892px;width:6px;height:6px;border-radius:3px;background:#2d5fdd"></div>
<div class="abs" style="left:1500px;top:892px;width:6px;height:6px;border-radius:3px;background:#2d5fdd"></div>
<div class="card" style="left:1509px;top:495px;width:357px;height:84px"></div>
<div class="ttl" style="left:1519px;top:506px">年月</div>
<div class="abs" style="left:1519px;top:543px;width:337px;height:24px;border:1px solid #d9dde5;border-radius:2px;background:#fff"></div>
<svg style="left:1838px;top:552px" width="11" height="7" viewBox="0 0 11 7" fill="none" stroke="#3a4255" stroke-width="1.1"><path d="M.6 .8L5.5 5.8 10.4 .8"/></svg>
<div class="card" style="left:1509px;top:585px;width:357px;height:84px"></div>
<div class="ttl" style="left:1519px;top:596px">商品名称</div>
<div class="abs" style="left:1519px;top:633px;width:337px;height:24px;border:1px solid #d9dde5;border-radius:2px;background:#fff"></div>
<svg style="left:1838px;top:642px" width="11" height="7" viewBox="0 0 11 7" fill="none" stroke="#3a4255" stroke-width="1.1"><path d="M.6 .8L5.5 5.8 10.4 .8"/></svg>
<div class="card" style="left:1509px;top:675px;width:357px;height:84px"></div>
<div class="ttl" style="left:1519px;top:686px">商品类别</div>
<div class="abs" style="left:1519px;top:724px;width:337px;height:24px;border:1px solid #d9dde5;border-radius:2px;background:#fff"></div>
<svg style="left:1838px;top:732px" width="11" height="7" viewBox="0 0 11 7" fill="none" stroke="#3a4255" stroke-width="1.1"><path d="M.6 .8L5.5 5.8 10.4 .8"/></svg>
<div class="lg" style="left:1526px;top:548px;color:#a2a9b6">无限制</div>
<div class="lg" style="left:1663px;top:548px;color:#2c3346">年</div>
<div class="lg" style="left:1681px;top:548px;color:#a2a9b6">无限制</div>
<div class="lg" style="left:1819px;top:548px;color:#2c3346">月</div>
<div class="lg" style="left:1526px;top:638px;color:#a2a9b6">无限制</div>
<div class="lg" style="left:1526px;top:729px;color:#2c3346">生鲜,零食</div>
<div class="abs" style="left:1816px;top:728px;width:16px;height:16px;border-radius:8px;background:#2d5fdd;color:#fff;font-size:12px;line-height:16px;text-align:center">2</div>
<div class="abs" style="left:1503px;top:495px;width:24px;height:120px;background:#5680e0;box-shadow:2px 0 4px rgba(60,80,140,.25)"></div>
<svg style="left:1508px;top:500px" width="14" height="14" viewBox="0 0 24 24" fill="none" stroke="#fff" stroke-width="2.5" stroke-linecap="round" stroke-linejoin="round"><path d="M12.2 5.4l1.3-1.3a5 5 0 0 1 7.07 7.07l-3 3a5 5 0 0 1-2.6 1.4"/><path d="M11.8 18.6l-1.3 1.3a5 5 0 0 1-7.07-7.07l3-3a5 5 0 0 1 2.6-1.4"/><path d="M9.2 14.8l5.6-5.6"/><path d="M17 20.5h4.2M2.8 3.5H7"/></svg>
<svg style="left:1508px;top:524px" width="14" height="14" viewBox="0 0 14 14" fill="none" stroke="#fff" stroke-width="1.5" stroke-linecap="round" stroke-linejoin="round"><path d="M8.8 1.4l3.6 3.6-6.8 7H1.6V8.4z"/><path d="M8 12.8h5.2"/></svg>
<svg style="left:1508px;top:548px" width="14" height="14" viewBox="0 0 14 14" fill="none" stroke="#fff" stroke-width="1.5" stroke-linecap="round" stroke-linejoin="round"><path d="M1 1v12M4 3v8M7 1v12M10 3v8M13 1v12"/></svg>
<svg style="left:1508px;top:572px" width="14" height="14" viewBox="0 0 14 14" fill="none" stroke="#fff" stroke-width="1.4" stroke-linecap="round" stroke-linejoin="round"><path d="M1 1.4h12v8.4H6.4L4.6 12V9.800H1z"/><path d="M3.6 4.200h6.8M3.6 6.8h6.8"/></svg>
<svg style="left:1508px;top:596px" width="14" height="14" viewBox="0 0 14 14" fill="none" stroke="#fff" stroke-width="1.4" stroke-linecap="round" stroke-linejoin="round"><circle cx="7" cy="7" r="6.200"/><path d="M3.8 5.800L7 9l3.200-3.200"/></svg>
<div class="abs" style="left:0;top:912px;width:1870px;height:31px;background:#eef0f6;border-top:1px solid #d9dce4"></div>
<svg style="left:45px;top:921px" width="13" height="13" viewBox="0 0 13 13" fill="none" stroke="#232a3d" stroke-width="1.2"><ellipse cx="6.5" cy="3" rx="5.6" ry="2.3"/><path d="M.9 3v7c0 1.3 2.5 2.3 5.6 2.3s5.6-1 5.6-2.3V3"/><path d="M.9 6.6c0 1.3 2.5 2.3 5.6 2.3s5.6-1 5.6-2.3"/></svg>
<div class="tab" style="left:68px;top:921px">数据</div>
<div class="abs" style="left:138px;top:922px;width:1px;height:12px;background:#cfd3da"></div>
<svg style="left:148px;top:921.500px" width="13" height="13" viewBox="0 0 13 13" fill="none"><rect x=".5" y=".5" width="12" height="12" rx="1.2" fill="#fff" stroke="#a3bdb8" stroke-width="1"/><path d="M1.500 2.600h10" stroke="#dceeea" stroke-width="1.400"/><path d="M3 11.200V8.200M10.200 11.200V8.400" stroke="#4a8f82" stroke-width="1.100"/><path d="M5.500 11.200V5.200M8 11.200V6.800" stroke="#5a9a8e" stroke-width="1.500"/></svg>
<div class="tab" style="left:173.3px;top:921px">销售额最大的10件商品</div>
<div class="abs" style="left:356px;top:922px;width:1px;height:12px;background:#cfd3da"></div>
<svg style="left:366px;top:921.500px" width="13" height="13" viewBox="0 0 13 13" fill="none"><rect x=".5" y=".5" width="12" height="12" rx="1.2" fill="#fff" stroke="#a3bdb8" stroke-width="1"/><path d="M1.500 2.600h10" stroke="#dceeea" stroke-width="1.400"/><path d="M3 11.200V8.200M10.200 11.200V8.400" stroke="#4a8f82" stroke-width="1.100"/><path d="M5.500 11.200V5.200M8 11.200V6.800" stroke="#5a9a8e" stroke-width="1.500"/></svg>
<div class="tab" style="left:391.3px;top:921px">毛利额环比增长</div>
<div class="abs" style="left:573px;top:922px;width:1px;height:12px;background:#cfd3da"></div>
<svg style="left:583px;top:921.500px" width="13" height="13" viewBox="0 0 13 13" fill="none"><rect x=".5" y=".5" width="12" height="12" rx="1.2" fill="#fff" stroke="#a3bdb8" stroke-width="1"/><path d="M1.500 2.600h10" stroke="#dceeea" stroke-width="1.400"/><path d="M3 11.200V8.200M10.200 11.200V8.400" stroke="#4a8f82" stroke-width="1.100"/><path d="M5.500 11.200V5.200M8 11.200V6.800" stroke="#5a9a8e" stroke-width="1.500"/></svg>
<div class="tab" style="left:608.3px;top:921px">毛利额环比增长图</div>
<div class="abs" style="left:792px;top:922px;width:1px;height:12px;background:#cfd3da"></div>
<svg style="left:802px;top:921.500px" width="13" height="13" viewBox="0 0 13 13" fill="none"><rect x=".5" y=".5" width="12" height="12" rx="1.2" fill="#fff" stroke="#a3bdb8" stroke-width="1"/><path d="M1.500 2.600h10" stroke="#dceeea" stroke-width="1.400"/><path d="M3 11.200V8.200M10.200 11.200V8.400" stroke="#4a8f82" stroke-width="1.100"/><path d="M5.500 11.200V5.200M8 11.200V6.800" stroke="#5a9a8e" stroke-width="1.500"/></svg>
<div class="tab" style="left:827.3px;top:921px">不同商品销售占比</div>
<div class="abs" style="left:1009px;top:922px;width:1px;height:12px;background:#cfd3da"></div>
<svg style="left:1019px;top:921.500px" width="13" height="13" viewBox="0 0 13 13" fill="none"><rect x=".5" y=".5" width="12" height="12" rx="1.2" fill="#fff" stroke="#a3bdb8" stroke-width="1"/><path d="M1.500 2.600h10" stroke="#dceeea" stroke-width="1.400"/><path d="M3 11.200V8.200M10.200 11.200V8.400" stroke="#4a8f82" stroke-width="1.100"/><path d="M5.500 11.200V5.200M8 11.200V6.800" stroke="#5a9a8e" stroke-width="1.500"/></svg>
<div class="tab" style="left:1044.3px;top:921px">毛利率分析</div>
<div class="abs" style="left:1229px;top:912px;width:216px;height:31px;background:#fff;border-radius:0 0 5px 5px"></div>
<svg style="left:1238.5px;top:921.5px" width="13" height="13" viewBox="0 0 13 13" fill="none" stroke="#a294de" stroke-width="1.1"><rect x=".6" y=".6" width="11.8" height="11.8"/><path d="M.6 8.500h11.8M8.500 .6v11.8M4.600 8.500v3.900M8.500 4.600h3.900"/></svg>
<div class="tab" style="left:1263px;top:921px">仪表板</div>
<svg style="left:1466.500px;top:920.500px" width="16" height="16" viewBox="0 0 16 16" fill="none"><path d="M12.400 8.400V.8H.6v11.600H8.400" stroke="#7fb0a5" stroke-width="1.100"/><path d="M.6 1.300H12.400" stroke="#7fb0a5" stroke-width="1.800"/><path d="M3.200 10.400V7.600M5.200 10.400V5.400M7.200 10.400V6.600M9.200 10.400V8" stroke="#3f8f7c" stroke-width="1.200"/><path d="M9.800 12.800h5.400M12.500 10.100v5.400" stroke="#2f7a68" stroke-width="1.200"/></svg>
<svg style="left:1498.500px;top:920.500px" width="16" height="16" viewBox="0 0 16 16" fill="none" stroke="#4c3db8" stroke-width="1.200"><path d="M12.400 8.400V.6H.6V12.400H8.400"/><path d="M.6 8.400H12.400M8.400 .6V12.400M4.500 8.400v4M8.400 4.500h4"/><path d="M9.800 12.800h5.400M12.500 10.100v5.400" stroke="#5a4cc0"/></svg>
<div class="abs" style="left:1830px;top:922px;width:1px;height:12px;background:#cfd3da"></div>
<svg style="left:1845px;top:920px" width="15" height="15" viewBox="0 0 15 15" fill="none" stroke="#232a3d" stroke-width="1.1"><circle cx="7.5" cy="7.5" r="6.6"/><path d="M4.2 9L7.5 5.6 10.8 9"/></svg>
<svg style="left:0;top:0" width="1870" height="943" viewBox="0 0 1870 943"><path d="M1009.600 713.200L1012.600 694.100L1014.300 697.700L1069.900 639.600L1070.800 640.400Q1049.500 675.500 1021.600 705.300L1027.400 705Z" fill="#ff2116"/></svg>
</body></html>
